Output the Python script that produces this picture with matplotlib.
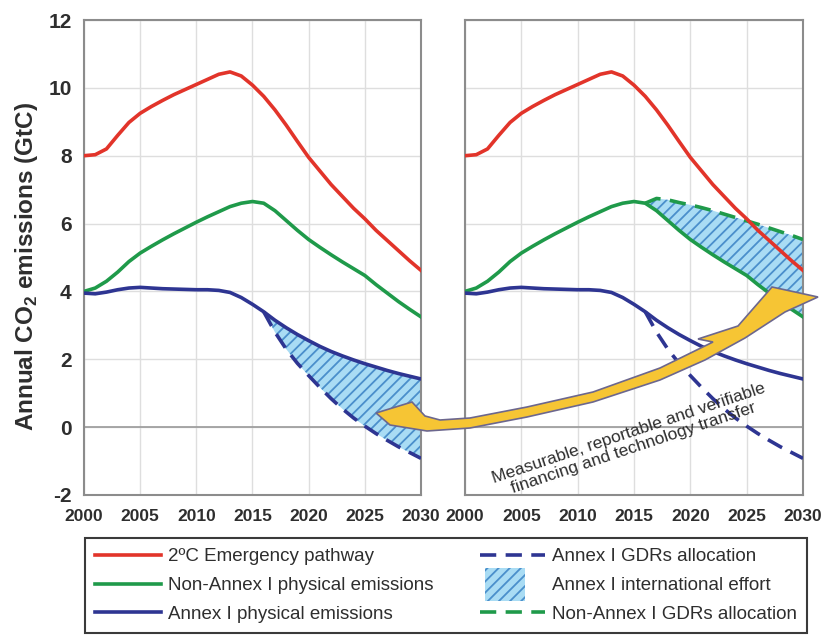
import numpy as np
import matplotlib
matplotlib.use("Agg")
import matplotlib.pyplot as plt
import matplotlib.patches as mpatches
from matplotlib.lines import Line2D
from matplotlib.legend_handler import HandlerPatch

plt.rcParams['font.family'] = ['Liberation Sans', 'DejaVu Sans']
plt.rcParams['mathtext.fontset'] = 'custom'
plt.rcParams['mathtext.rm'] = 'Liberation Sans'
plt.rcParams['mathtext.bf'] = 'Liberation Sans:bold'
plt.rcParams['hatch.linewidth'] = 1.3
plt.rcParams['axes.unicode_minus'] = False

# data (GtC)
years = np.arange(2000, 2031)
emergency = [8.0, 8.03, 8.2, 8.6, 8.98, 9.25, 9.45, 9.63, 9.8, 9.95, 10.1,
             10.25, 10.4, 10.47, 10.35, 10.08, 9.75, 9.35, 8.9, 8.42, 7.95,
             7.55, 7.15, 6.8, 6.45, 6.14, 5.8, 5.5, 5.2, 4.9, 4.62]
nonannex = [4.0, 4.1, 4.3, 4.57, 4.88, 5.13, 5.33, 5.52, 5.7, 5.87, 6.04,
            6.2, 6.35, 6.5, 6.6, 6.65, 6.6, 6.38, 6.09, 5.8, 5.53,
            5.3, 5.08, 4.87, 4.67, 4.47, 4.2, 3.95, 3.7, 3.47, 3.25]
annex = [3.95, 3.93, 3.98, 4.05, 4.1, 4.12, 4.1, 4.08, 4.07, 4.06, 4.05,
         4.05, 4.03, 3.97, 3.82, 3.62, 3.4, 3.15, 2.93, 2.73, 2.55,
         2.38, 2.23, 2.1, 1.98, 1.87, 1.77, 1.67, 1.58, 1.5, 1.42]
gdr_years = np.arange(2016, 2031)
annex_gdr = [3.4, 2.8, 2.3, 1.88, 1.52, 1.17, 0.84, 0.54, 0.27, 0.03,
             -0.19, -0.39, -0.58, -0.75, -0.92]
nonannex_gdr = [6.6, 6.74, 6.7, 6.62, 6.55, 6.47, 6.38, 6.28, 6.18, 6.08,
                5.98, 5.87, 5.76, 5.65, 5.53]

labels = ['2ºC Emergency pathway', 'Non-Annex I physical emissions',
          'Annex I physical emissions', 'Annex I GDRs allocation',
          'Annex I international effort', 'Non-Annex I GDRs allocation']
arrow_text = "Measurable, reportable and verifiable\nfinancing and technology transfer"

RED = '#e2342a'
GREEN = '#1f9a4a'
BLUE = '#2e3592'
HFACE = '#a9dcf4'
HLINE = '#4a8fcb'
GRIDC = '#dedede'
SPINEC = '#8c8c8c'
TXT = '#2e2e2e'

W, H = 822, 640
fig = plt.figure(figsize=(W / 100, H / 100), dpi=100)
ax1 = fig.add_axes([84 / W, 1 - 495 / H, 337 / W, 475 / H])
ax2 = fig.add_axes([465 / W, 1 - 495 / H, 338 / W, 475 / H])

idx = len(years) - len(gdr_years)

for ax in (ax1, ax2):
    ax.set_xlim(2000, 2030)
    ax.set_ylim(-2, 12)
    ax.set_xticks(range(2000, 2031, 5))
    ax.set_yticks(range(-2, 13, 2))
    ax.grid(True, color=GRIDC, lw=1.0)
    ax.set_axisbelow(True)
    ax.axhline(0, color='#9a9a9a', lw=1.2, zorder=1)
    for s in ax.spines.values():
        s.set_color(SPINEC)
        s.set_linewidth(1.5)
    ax.tick_params(length=0, colors=TXT)
    ax.tick_params(axis='x', pad=10, labelsize=12.5)
    ax.tick_params(axis='y', pad=9, labelsize=15)
    for lab in ax.get_xticklabels() + ax.get_yticklabels():
        lab.set_fontweight('bold')
    ax.plot(years, emergency, color=RED, lw=2.6, zorder=4)
    ax.plot(years, nonannex, color=GREEN, lw=2.6, zorder=3)
    ax.plot(years, annex, color=BLUE, lw=2.6, zorder=3)
    ax.plot(gdr_years, annex_gdr, color=BLUE, lw=2.6, dashes=(4.5, 2.6), zorder=3)

ax2.set_yticklabels([])

# left panel: Annex I international effort between physical and GDR allocation
ax1.fill_between(gdr_years, annex[idx:], annex_gdr, facecolor=HFACE,
                 edgecolor=HLINE, hatch='///', lw=0, zorder=2)
# right panel: same effort shown on top of non-Annex I emissions
ax2.fill_between(gdr_years, nonannex[idx:], nonannex_gdr, facecolor=HFACE,
                 edgecolor=HLINE, hatch='///', lw=0, zorder=2)
ax2.plot(gdr_years, nonannex_gdr, color=GREEN, lw=2.6, dashes=(4.5, 2.6), zorder=3)

fig.text(27 / W, 1 - 266 / H, r'Annual CO$_\mathbf{2}$ emissions (GtC)',
         rotation=90, ha='center', va='center', fontsize=17.5,
         fontweight='bold', color=TXT)

# the yellow transfer arrow, outline in figure pixels
arrow_pts = [(818, 297), (772, 287), (738, 326), (698, 339), (713, 342),
             (660, 368), (593, 392), (527, 407), (470, 418), (440, 420),
             (425, 416), (412, 402), (376, 413), (390, 425), (427, 431),
             (470, 428), (527, 417), (593, 402), (660, 380), (705, 360),
             (745, 338), (785, 312)]
arrow = mpatches.Polygon([(x / W, 1 - y / H) for x, y in arrow_pts],
                         closed=True, transform=fig.transFigure,
                         facecolor='#f6c534', edgecolor='#6c678e',
                         lw=1.2, zorder=5)
fig.add_artist(arrow)
fig.text(631 / W, 1 - 441 / H, arrow_text, rotation=18.5, ha='center',
         va='center', rotation_mode='anchor', multialignment='center',
         fontsize=12.5, linespacing=1.05, color=TXT, zorder=6)


def tall_patch(legend, orig_handle, xdescent, ydescent, width, height, fontsize):
    return mpatches.Rectangle((width * 0.08 - xdescent, -ydescent - height * 0.8),
                              width * 0.62, height * 2.5)


hatch_handle = mpatches.Patch(facecolor=HFACE, edgecolor=HLINE, hatch='///', lw=0)
handles = [Line2D([], [], color=RED, lw=2.6),
           Line2D([], [], color=GREEN, lw=2.6),
           Line2D([], [], color=BLUE, lw=2.6),
           Line2D([], [], color=BLUE, lw=2.6, dashes=(4.5, 2.6)),
           hatch_handle,
           Line2D([], [], color=GREEN, lw=2.6, dashes=(4.5, 2.6))]
leg = fig.legend(handles, labels, ncol=2, loc='upper left',
                 bbox_to_anchor=(85 / W, 1 - 638 / H, 722 / W, 100 / H),
                 mode='expand', borderaxespad=0, fancybox=False, framealpha=1,
                 edgecolor='#3a3a3a', fontsize=13.5, handlelength=3.5,
                 handletextpad=0.35, labelspacing=0.62, borderpad=0.55,
                 handler_map={hatch_handle: HandlerPatch(patch_func=tall_patch)})
leg.get_frame().set_linewidth(1.5)
for t in leg.get_texts():
    t.set_color(TXT)

fig.savefig('out.png', dpi=100)
